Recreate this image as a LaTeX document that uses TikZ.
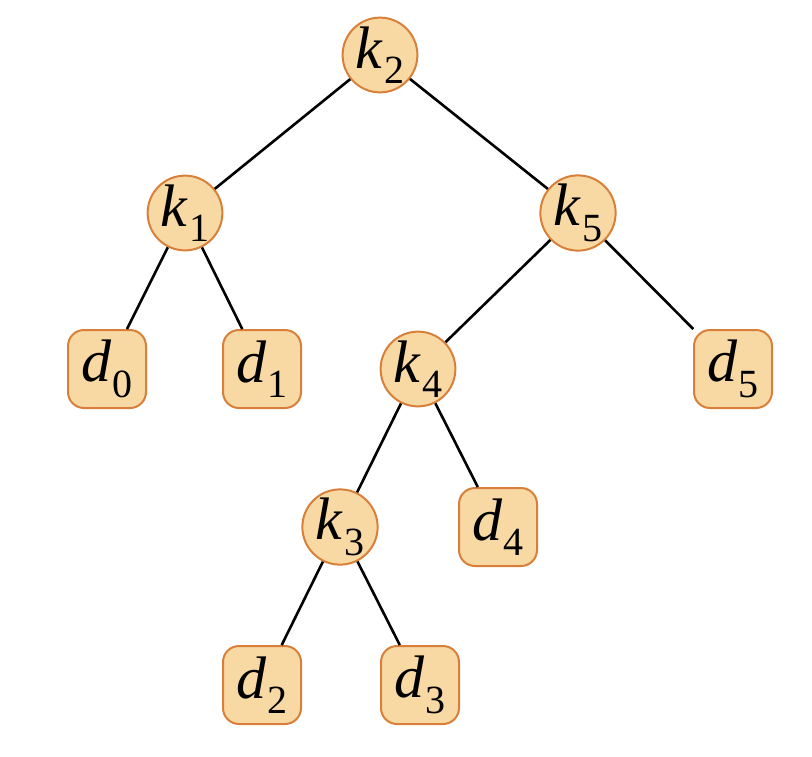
\documentclass[tikz,border=0pt]{standalone}
\usepackage{fontspec}
\setmainfont{Liberation Serif}
\definecolor{nodefill}{HTML}{F8D9A4}
\definecolor{nodeborder}{HTML}{D8803A}
\newcommand{\lbl}[2]{\fontsize{60}{60}\selectfont\textit{#1}\kern1pt\raisebox{-0.26em}{\fontsize{40}{40}\selectfont #2}}
\tikzset{
  keynode/.style={circle, draw=nodeborder, fill=nodefill, line width=2pt, minimum size=74pt, inner sep=0pt},
  leafnode/.style={rectangle, rounded corners=16pt, draw=nodeborder, fill=nodefill, line width=2pt, minimum width=78pt, minimum height=78pt, inner sep=0pt},
  edge/.style={line width=2.6pt, black}
}
\begin{document}
\begin{tikzpicture}[x=1pt,y=-1pt]
\useasboundingbox (0,0) rectangle (812,756);
\node[keynode] (k2) at (380,55) {\lbl{k}{2}};
\node[keynode] (k1) at (185,213) {\lbl{k}{1}};
\node[keynode] (k5) at (578,213) {\lbl{k}{5}};
\node[leafnode] (d0) at (107,369) {\lbl{d}{0}};
\node[leafnode] (d1) at (262,369) {\lbl{d}{1}};
\node[keynode] (k4) at (418,369) {\lbl{k}{4}};
\node[leafnode] (d5) at (733,369) {\lbl{d}{5}};
\node[keynode] (k3) at (340,527) {\lbl{k}{3}};
\node[leafnode] (d4) at (498,527) {\lbl{d}{4}};
\node[leafnode] (d2) at (262,685) {\lbl{d}{2}};
\node[leafnode] (d3) at (420,685) {\lbl{d}{3}};
\draw[edge] (k2) -- (k1);
\draw[edge] (k2) -- (k5);
\draw[edge] (k1) -- (d0);
\draw[edge] (k1) -- (d1);
\draw[edge] (k5) -- (k4);
\draw[edge] (k5) -- (d5);
\draw[edge] (k4) -- (k3);
\draw[edge] (k4) -- (d4);
\draw[edge] (k3) -- (d2);
\draw[edge] (k3) -- (d3);
\end{tikzpicture}
\end{document}
